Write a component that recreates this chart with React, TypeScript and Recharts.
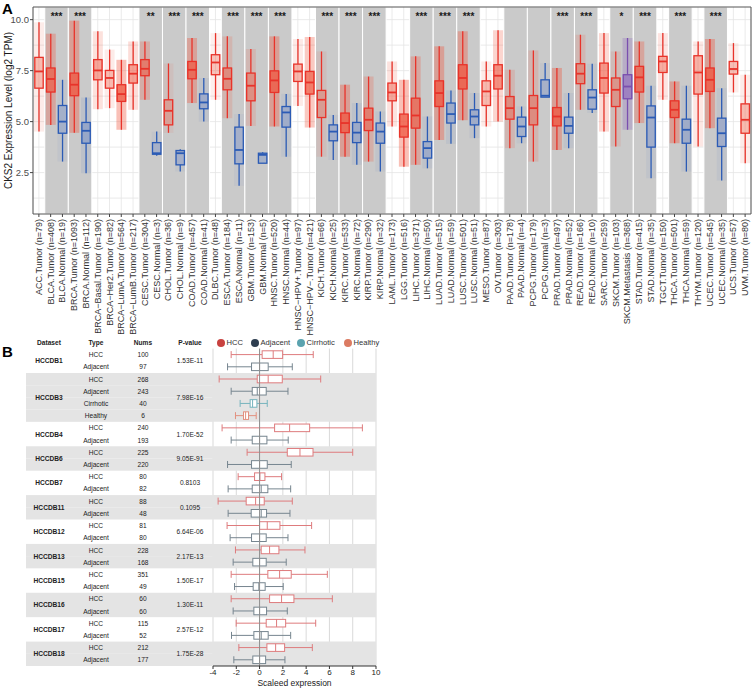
import React from 'react';
import {
  ComposedChart,
  Bar,
  XAxis,
  YAxis,
  CartesianGrid,
  ReferenceArea,
  ReferenceLine,
} from 'recharts';

// ---------- panel A: CKS2 across TCGA cohorts ----------
const groups = [
  'ACC.Tumor (n=79)', 'BLCA.Tumor (n=408)', 'BLCA.Normal (n=19)', 'BRCA.Tumor (n=1093)', 'BRCA.Normal (n=112)',
  'BRCA\u2212Basal.Tumor (n=190)', 'BRCA\u2212Her2.Tumor (n=82)', 'BRCA\u2212LumA.Tumor (n=564)', 'BRCA\u2212LumB.Tumor (n=217)',
  'CESC.Tumor (n=304)', 'CESC.Normal (n=3)', 'CHOL.Tumor (n=36)', 'CHOL.Normal (n=9)', 'COAD.Tumor (n=457)',
  'COAD.Normal (n=41)', 'DLBC.Tumor (n=48)', 'ESCA.Tumor (n=184)', 'ESCA.Normal (n=11)', 'GBM.Tumor (n=153)',
  'GBM.Normal (n=5)', 'HNSC.Tumor (n=520)', 'HNSC.Normal (n=44)', 'HNSC\u2212HPV+.Tumor (n=97)', 'HNSC\u2212HPV\u2212.Tumor (n=421)',
  'KICH.Tumor (n=66)', 'KICH.Normal (n=25)', 'KIRC.Tumor (n=533)', 'KIRC.Normal (n=72)', 'KIRP.Tumor (n=290)',
  'KIRP.Normal (n=32)', 'LAML.Tumor (n=173)', 'LGG.Tumor (n=516)', 'LIHC.Tumor (n=371)', 'LIHC.Normal (n=50)',
  'LUAD.Tumor (n=515)', 'LUAD.Normal (n=59)', 'LUSC.Tumor (n=501)', 'LUSC.Normal (n=51)', 'MESO.Tumor (n=87)',
  'OV.Tumor (n=303)', 'PAAD.Tumor (n=178)', 'PAAD.Normal (n=4)', 'PCPG.Tumor (n=179)', 'PCPG.Normal (n=3)',
  'PRAD.Tumor (n=497)', 'PRAD.Normal (n=52)', 'READ.Tumor (n=166)', 'READ.Normal (n=10)', 'SARC.Tumor (n=259)',
  'SKCM.Tumor (n=103)', 'SKCM.Metastasis (n=368)', 'STAD.Tumor (n=415)', 'STAD.Normal (n=35)', 'TGCT.Tumor (n=150)',
  'THCA.Tumor (n=501)', 'THCA.Normal (n=59)', 'THYM.Tumor (n=120)', 'UCEC.Tumor (n=545)', 'UCEC.Normal (n=35)',
  'UCS.Tumor (n=57)', 'UVM.Tumor (n=80)',
];

const whiskerLow = [
  4.51, 4.84, 3.04, 4.45, 2.47, 5.61, 5.66, 4.6, 5.58, 6.07, 3.33, 4.45, 2.55, 5.91, 5.0, 6.07, 5.17, 1.85, 4.79, 2.96,
  4.76, 3.28, 5.77, 4.71, 3.28, 3.12, 3.28, 2.88, 3.04, 2.55, 4.76, 2.79, 2.88, 2.71, 4.1, 3.91, 5.07, 4.19, 4.76, 5.0,
  3.7, 3.94, 3.04, 6.2, 3.61, 3.7, 5.58, 5.42, 4.51, 3.78, 4.6, 4.93, 2.22, 6.07, 3.94, 2.55, 3.78, 4.68, 2.11, 6.43, 2.96,
];
const lowerQuartile = [
  6.64, 6.45, 4.43, 6.27, 3.94, 7.05, 6.64, 5.99, 6.89, 7.25, 3.4, 4.84, 2.88, 7.1, 5.63, 7.3, 6.56, 2.93, 6.02, 2.96,
  6.43, 4.73, 6.97, 6.35, 5.2, 4.06, 4.46, 3.97, 4.56, 3.94, 6.02, 4.24, 4.68, 3.21, 5.74, 4.93, 6.6, 4.84, 5.79, 6.6,
  5.12, 4.27, 4.84, 6.2, 4.79, 4.43, 6.86, 5.61, 6.4, 5.74, 6.12, 6.45, 3.75, 7.41, 5.2, 3.94, 6.35, 6.48, 3.78, 7.33, 4.43,
];
const medians = [
  7.46, 7.09, 5.0, 6.81, 4.55, 7.51, 7.14, 6.35, 7.35, 7.59, 3.45, 5.53, 3.45, 7.54, 5.94, 7.9, 7.1, 3.61, 6.76, 3.37,
  7.02, 5.45, 7.46, 6.92, 6.07, 4.51, 4.93, 4.46, 5.09, 4.51, 6.43, 4.76, 5.3, 3.7, 6.4, 5.37, 7.14, 5.25, 6.48, 7.25,
  5.66, 4.76, 5.66, 6.27, 5.25, 4.79, 7.35, 6.18, 7.14, 6.56, 6.72, 7.17, 5.2, 7.95, 5.58, 4.6, 7.41, 7.05, 4.43, 7.58, 5.09,
];
const upperQuartile = [
  8.15, 7.63, 5.79, 7.38, 4.96, 8.04, 7.51, 6.81, 7.79, 8.04, 3.97, 6.07, 3.58, 7.95, 6.36, 8.28, 7.63, 4.73, 7.38, 3.45,
  7.49, 5.74, 7.82, 7.46, 6.53, 4.84, 5.42, 4.96, 5.66, 4.93, 6.89, 5.37, 6.15, 4.02, 7.0, 5.91, 7.79, 5.58, 7.0, 7.79,
  6.23, 5.22, 6.28, 7.05, 5.69, 5.22, 7.84, 6.56, 7.87, 7.14, 7.3, 7.71, 5.77, 8.2, 6.02, 5.12, 8.23, 7.63, 5.17, 7.95, 5.87,
];
const whiskerHigh = [
  9.87, 9.31, 7.05, 9.95, 6.18, 9.43, 8.53, 8.03, 8.93, 8.93, 4.51, 7.85, 3.65, 9.1, 7.14, 9.34, 9.18, 5.37, 8.56, 3.5,
  9.18, 6.36, 9.05, 9.15, 8.44, 5.33, 6.81, 5.91, 7.21, 5.5, 7.95, 7.05, 8.2, 5.25, 8.69, 6.53, 9.43, 6.4, 7.95, 9.48,
  7.54, 5.74, 8.49, 7.87, 7.63, 6.4, 9.26, 7.84, 9.34, 8.44, 9.1, 8.93, 6.76, 9.34, 6.97, 6.76, 8.93, 9.05, 6.64, 8.85, 7.3,
];

const pairedCohorts = ['BLCA', 'BRCA', 'CESC', 'CHOL', 'COAD', 'ESCA', 'GBM', 'HNSC', 'KICH', 'KIRC', 'KIRP',
  'LIHC', 'LUAD', 'LUSC', 'PAAD', 'PCPG', 'PRAD', 'READ', 'SKCM', 'STAD', 'THCA', 'UCEC'];
const pairedStars = ['***', '***', '**', '***', '***', '***', '***', '***', '***', '***', '***',
  '***', '***', '***', '', '', '***', '***', '*', '***', '***', '***'];

const yTicksA = [2.5, 5, 7.5, 10];
const yGridA = [1.25, 2.5, 3.75, 5, 6.25, 7.5, 8.75, 10];

// ---------- panel B: HCCDB ----------
const bDataset = ['HCCDB1', 'HCCDB1', 'HCCDB3', 'HCCDB3', 'HCCDB3', 'HCCDB3', 'HCCDB4', 'HCCDB4', 'HCCDB6', 'HCCDB6',
  'HCCDB7', 'HCCDB7', 'HCCDB11', 'HCCDB11', 'HCCDB12', 'HCCDB12', 'HCCDB13', 'HCCDB13', 'HCCDB15', 'HCCDB15',
  'HCCDB16', 'HCCDB16', 'HCCDB17', 'HCCDB17', 'HCCDB18', 'HCCDB18'];
const bType = ['HCC', 'Adjacent', 'HCC', 'Adjacent', 'Cirrhotic', 'Healthy', 'HCC', 'Adjacent', 'HCC', 'Adjacent',
  'HCC', 'Adjacent', 'HCC', 'Adjacent', 'HCC', 'Adjacent', 'HCC', 'Adjacent', 'HCC', 'Adjacent',
  'HCC', 'Adjacent', 'HCC', 'Adjacent', 'HCC', 'Adjacent'];
const bNums = [100, 97, 268, 243, 40, 6, 240, 193, 225, 220, 80, 82, 88, 48, 81, 80, 228, 168, 351, 49, 60, 60, 115, 52, 212, 177];
const bLow = [-2.44, -2.75, -3.47, -2.44, -1.67, -2.07, -3.22, -2.44, -1.07, -2.75, -1.84, -2.7, -3.56, -2.7,
  -2.79, -2.53, -2.07, -2.27, -2.44, -2.15, -2.44, -2.27, -2.01, -2.41, -1.78, -2.21];
const bQ1 = [0.22, -0.69, -0.2, -0.63, -0.81, -1.38, 1.29, -0.63, 2.38, -0.69, -0.43, -0.63, -1.15, -0.72,
  0, -0.69, 0.14, -0.58, 0.71, -0.55, 0.86, -0.49, 0.57, -0.49, 0.63, -0.58];
const bMedian = [1.17, 0, 0.74, -0.2, -0.6, -1.2, 2.58, 0, 3.47, 0, 0.03, 0.14, -0.34, 0.14,
  0.66, 0, 0.86, 0, 1.72, -0.06, 1.89, 0, 1.46, 0.14, 1.38, 0];
const bQ3 = [1.98, 0.74, 1.95, 0.57, -0.23, -0.95, 4.3, 0.63, 4.59, 0.66, 0.46, 0.71, 0.4, 0.6,
  1.75, 0.57, 1.66, 0.57, 2.72, 0.48, 2.95, 0.6, 2.24, 0.74, 2.15, 0.52];
const bHigh = [4.61, 2.81, 5.25, 2.44, 0.66, -0.29, 8.83, 2.46, 8.0, 2.72, 1.89, 2.67, 2.81, 2.61,
  4.47, 2.44, 3.9, 2.29, 5.82, 2.03, 6.25, 2.38, 4.82, 2.67, 4.53, 2.18];

const datasets = ['HCCDB1', 'HCCDB3', 'HCCDB4', 'HCCDB6', 'HCCDB7', 'HCCDB11', 'HCCDB12', 'HCCDB13', 'HCCDB15', 'HCCDB16', 'HCCDB17', 'HCCDB18'];
const pValues = ['1.53E-11', '7.98E-16', '1.70E-52', '9.05E-91', '0.8103', '0.1095', '6.64E-06', '2.17E-13', '1.50E-17', '1.30E-11', '2.57E-12', '1.75E-28'];

const xTicksB = [-4, -2, 0, 2, 4, 6, 8, 10];
const legendNames = ['HCC', 'Adjacent', 'Cirrhotic', 'Healthy'];
const legendDots = ['#C8423F', '#2E3E50', '#5BA3AF', '#DB7B62'];
const boxStroke: Record<string, string> = { HCC: '#DE7B7D', Adjacent: '#76858F', Cirrhotic: '#76B4BE', Healthy: '#E2907F' };

const FONT = '"Liberation Sans", Arial, sans-serif';

const dataA = groups.map((name, i) => ({
  name,
  n: Number((name.match(/n=(\d+)/) || [])[1] || 0),
  lo: whiskerLow[i], q1: lowerQuartile[i], med: medians[i], q3: upperQuartile[i], hi: whiskerHigh[i],
}));

const pairs = pairedCohorts.map((code, i) => ({
  a: groups.findIndex((g) => g.startsWith(code + '.Tumor')),
  b: groups.findIndex((g) => g.startsWith(code + '.') && !g.startsWith(code + '.Tumor')),
  stars: pairedStars[i],
}));

const colourOf = (name: string) => {
  if (name.includes('Normal')) return { line: '#2B5BB5', fill: '#5A7CC6' };
  if (name.includes('Metastasis')) return { line: '#7A4FAE', fill: '#8E67BD' };
  return { line: '#E8332A', fill: '#F0563F' };
};

const BoxA = (props: any) => {
  const { x, y, width, height, payload } = props;
  const top = Math.min(y, y + height);
  const h = Math.abs(height);
  const span = payload.hi - payload.lo || 1;
  const py = (v: number) => top + ((payload.hi - v) / span) * h;
  const cx = x + width / 2;
  const c = colourOf(payload.name);
  const dens = Math.min(0.68, 0.12 + payload.n / 900);
  return (
    <g>
      <rect x={cx - 5} y={py(payload.hi)} width={10} height={h} fill={c.fill} fillOpacity={dens * 0.55} />
      <rect x={cx - 5} y={py(payload.q3)} width={10} height={py(payload.q1) - py(payload.q3)} fill={c.fill} fillOpacity={dens} />
      <line x1={cx} x2={cx} y1={py(payload.hi)} y2={py(payload.q3)} stroke={c.line} strokeWidth={1.3} />
      <line x1={cx} x2={cx} y1={py(payload.q1)} y2={py(payload.lo)} stroke={c.line} strokeWidth={1.3} />
      <rect x={cx - 4.2} y={py(payload.q3)} width={8.4} height={py(payload.q1) - py(payload.q3)}
        fill={c.fill} fillOpacity={0.15} stroke={c.line} strokeWidth={1.3} />
      <line x1={cx - 4.2} x2={cx + 4.2} y1={py(payload.med)} y2={py(payload.med)} stroke={c.line} strokeWidth={1.8} />
    </g>
  );
};

const XTickA = ({ x, y, payload }: any) => (
  <text x={x} y={y} transform={`rotate(-90 ${x} ${y})`} textAnchor="end" dominantBaseline="central"
    fontSize={9} fill="#333" fontFamily={FONT}>
    {payload.value}
  </text>
);

// panel B rows
const dataB = bDataset.map((ds, i) => ({
  key: ds + '|' + bType[i] + '|' + i,
  ds, type: bType[i], n: bNums[i],
  lo: bLow[i], q1: bQ1[i], med: bMedian[i], q3: bQ3[i], hi: bHigh[i],
}));

const B_W = 365;
const B_H = 350;
const B_MT = 8.6;
const B_XH = 24;
const B_YW = 188;
const rowH = (B_H - B_MT - B_XH) / dataB.length;

// ticks render top to bottom, so the group labels are written by the last row of a group
const TableTick = ({ y, index }: any) => {
  const row = dataB[index];
  if (!row) return null;
  const dsIdx = datasets.indexOf(row.ds);
  const shaded = dsIdx % 2 === 1;
  const last = bDataset.lastIndexOf(row.ds) === index;
  const count = bDataset.filter((d) => d === row.ds).length;
  const gy = y - ((count - 1) / 2) * rowH;
  return (
    <g fontFamily={FONT} fontSize={6.6}>
      {shaded && <rect x={1} y={y - rowH / 2} width={B_YW - 1} height={rowH} fill="#E4E4E4" />}
      <text x={71} y={y} textAnchor="middle" dominantBaseline="central" fill="#222">{row.type}</text>
      <text x={118} y={y} textAnchor="middle" dominantBaseline="central" fill="#222">{row.n}</text>
      {last && (
        <text x={24} y={gy} textAnchor="middle" dominantBaseline="central" fontWeight="bold" fill="#222">{row.ds}</text>
      )}
      {last && (
        <text x={165} y={gy} textAnchor="middle" dominantBaseline="central" fill="#222">{pValues[dsIdx]}</text>
      )}
    </g>
  );
};

const BoxB = (props: any) => {
  const { x, y, width, height, payload } = props;
  const left = Math.min(x, x + width);
  const w = Math.abs(width);
  const span = payload.hi - payload.lo || 1;
  const px = (v: number) => left + ((v - payload.lo) / span) * w;
  const cy = y + height / 2;
  const s = boxStroke[payload.type];
  const bh = 7.6;
  return (
    <g stroke={s} strokeWidth={1}>
      <line x1={px(payload.lo)} x2={px(payload.q1)} y1={cy} y2={cy} />
      <line x1={px(payload.q3)} x2={px(payload.hi)} y1={cy} y2={cy} />
      <line x1={px(payload.lo)} x2={px(payload.lo)} y1={cy - 3.5} y2={cy + 3.5} />
      <line x1={px(payload.hi)} x2={px(payload.hi)} y1={cy - 3.5} y2={cy + 3.5} />
      <rect x={px(payload.q1)} y={cy - bh / 2} width={px(payload.q3) - px(payload.q1)} height={bh} fill="#fff" />
      <line x1={px(payload.med)} x2={px(payload.med)} y1={cy - bh / 2} y2={cy + bh / 2} />
    </g>
  );
};

const headerCols = [
  { label: 'Dataset', x: 49 },
  { label: 'Type', x: 96 },
  { label: 'Nums', x: 143 },
  { label: 'P-value', x: 190 },
];

export default function App() {
  const dsGroups = datasets.map((ds, i) => ({
    ds, i,
    first: dataB.find((r) => r.ds === ds)!.key,
    last: [...dataB].reverse().find((r) => r.ds === ds)!.key,
  }));

  return (
    <div style={{ position: 'absolute', left: 0, top: 0, width: 753, height: 690, background: '#fff', fontFamily: FONT }}>
      <div style={{ position: 'absolute', left: 2, top: 0, fontSize: 15, fontWeight: 'bold' }}>A</div>
      <div style={{ position: 'absolute', left: 0, top: 0 }}>
        <ComposedChart width={753} height={340} data={dataA} margin={{ top: 7, right: 2, bottom: 0, left: 0 }} barCategoryGap={0}>
          <CartesianGrid stroke="#E4E4E4" strokeWidth={0.8} horizontalValues={yGridA} />
          {pairs.map((p) => (
            <ReferenceArea
              key={groups[p.a]}
              x1={groups[p.a]}
              x2={groups[p.b]}
              y1={0.47}
              y2={10.62}
              fill="#CACACA"
              fillOpacity={1}
              stroke="#fff"
              strokeWidth={1}
              label={p.stars ? { value: p.stars, position: 'insideTop', offset: 6, fontSize: 10, fontWeight: 'bold', fill: '#1a1a1a' } : undefined}
            />
          ))}
          <XAxis dataKey="name" interval={0} height={126} tick={<XTickA />} tickSize={3} tickMargin={2}
            tickLine={{ stroke: '#444' }} axisLine={false} />
          <YAxis type="number" domain={[0.47, 10.62]} ticks={yTicksA} allowDataOverflow width={33}
            tickFormatter={(v: number) => v.toFixed(1)} tickSize={3} tickMargin={1} tickLine={{ stroke: '#444' }} axisLine={false}
            tick={{ fontSize: 9.5, fill: '#4D4D4D', fontFamily: FONT }}
            label={{ value: 'CKS2 Expression Level (log2 TPM)', angle: -90, position: 'insideLeft', offset: 8,
              style: { textAnchor: 'middle', fontSize: 10, fill: '#1a1a1a', fontFamily: FONT } }} />
          <Bar dataKey={(d: any) => [d.lo, d.hi]} shape={BoxA} isAnimationActive={false} />
          <ReferenceArea x1={groups[0]} x2={groups[groups.length - 1]} y1={0.47} y2={10.62}
            fill="none" fillOpacity={0} stroke="#555" strokeWidth={1} />
        </ComposedChart>
      </div>

      <div style={{ position: 'absolute', left: 2, top: 343, fontSize: 15, fontWeight: 'bold' }}>B</div>
      {headerCols.map((h) => (
        <div key={h.label} style={{ position: 'absolute', left: h.x - 30, width: 60, top: 338, textAlign: 'center',
          fontSize: 6.6, fontWeight: 'bold', color: '#222', lineHeight: '9px' }}>{h.label}</div>
      ))}
      {legendNames.map((name, i) => (
        <div key={name} style={{ position: 'absolute', left: [217, 251, 297, 344][i], top: 337.5, display: 'flex',
          alignItems: 'center', fontSize: 7.6, color: '#333', lineHeight: '10px' }}>
          <span style={{ display: 'inline-block', width: 8, height: 8, borderRadius: 4, background: legendDots[i], marginRight: 1.5 }} />
          {name}
        </div>
      ))}
      <div style={{ position: 'absolute', left: 25, top: 340 }}>
        <ComposedChart layout="vertical" width={B_W} height={B_H} data={dataB}
          margin={{ top: B_MT, right: 14, bottom: 0, left: 0 }} barCategoryGap={0}>
          {dsGroups.filter((g) => g.i % 2 === 1).map((g) => (
            <ReferenceArea key={g.ds} y1={g.first} y2={g.last} x1={-4} x2={10} fill="#E4E4E4" fillOpacity={1} stroke="none" />
          ))}
          <CartesianGrid horizontal={false} stroke="#CFCFCF" strokeWidth={0.8} verticalValues={xTicksB} />
          <ReferenceLine x={0} stroke="#8E8E8E" strokeWidth={1} />
          <XAxis type="number" domain={[-4, 10]} ticks={xTicksB} height={B_XH} tickSize={3} tickMargin={0}
            tick={{ fontSize: 8, fill: '#222', fontFamily: FONT }} tickLine={{ stroke: '#333' }} axisLine={{ stroke: '#333' }}
            label={{ value: 'Scaleed expression', position: 'insideBottom', offset: 4,
              style: { fontSize: 8.5, fill: '#222', fontFamily: FONT } }} />
          <YAxis type="category" dataKey="key" width={B_YW} interval={0} tick={<TableTick />} tickLine={false} axisLine={false} />
          <Bar dataKey={(d: any) => [d.lo, d.hi]} shape={BoxB} isAnimationActive={false} />
        </ComposedChart>
      </div>
    </div>
  );
}
